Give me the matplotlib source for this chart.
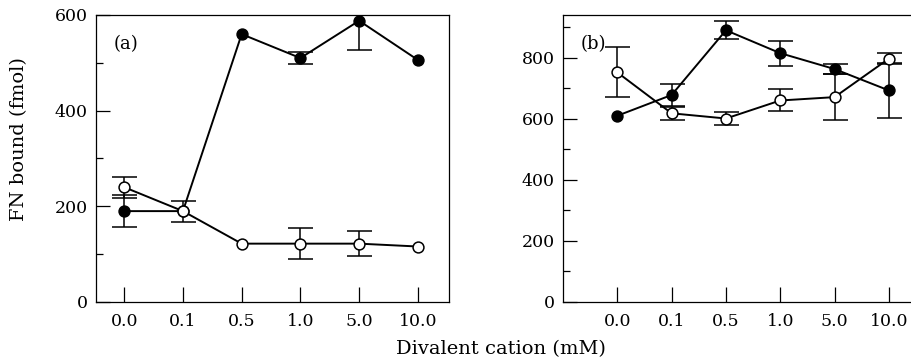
import numpy as np
import matplotlib
matplotlib.use("Agg")
import matplotlib.pyplot as plt
from matplotlib.ticker import MultipleLocator

plt.rcParams['font.family'] = ['DejaVu Serif']

conc_labels = ['0.0', '0.1', '0.5', '1.0', '5.0', '10.0']

# panel (a)
a_filled = [190, 190, 560, 510, 588, 506]
a_filled_err = [33, 0, 0, 12, 62, 0]
a_open = [240, 190, 122, 122, 122, 116]
a_open_err = [22, 22, 0, 32, 26, 0]

# panel (b)
b_filled = [610, 678, 890, 815, 763, 693]
b_filled_err = [0, 37, 29, 41, 16, 90]
b_open = [752, 618, 601, 660, 671, 797]
b_open_err = [82, 22, 21, 36, 76, 18]

fig = plt.figure(figsize=(9.12, 3.62), dpi=100)
ax1 = fig.add_axes([96/912, 60/362, 353/912, 287/362])
ax2 = fig.add_axes([563/912, 60/362, 353/912, 287/362])

x = np.arange(len(conc_labels))


def series(ax, y, err, face, z):
    y = np.asarray(y, float)
    err = np.asarray(err, float)
    has = err > 0
    # error bars only where an SD was given
    ax.errorbar(x[has], y[has], yerr=err[has], fmt='none', ecolor='black',
                elinewidth=1.1, capsize=9, capthick=1.1, zorder=z)
    ax.plot(x, y, '-', color='black', lw=1.4, zorder=z)
    ax.plot(x, y, 'o', ms=7.8, mfc=face, mec='black', mew=1.1, zorder=z + 0.5)


def style(ax):
    ax.set_xticks(x)
    ax.set_xticklabels(conc_labels)
    ax.tick_params(axis='x', direction='in', length=11, width=0.9, pad=8, labelsize=12.5)
    ax.tick_params(axis='y', which='major', direction='in', length=10, width=0.9,
                   pad=6, labelsize=12.5)
    ax.tick_params(axis='y', which='minor', direction='in', length=5, width=0.9)
    ax.yaxis.set_major_locator(MultipleLocator(200))
    ax.yaxis.set_minor_locator(MultipleLocator(100))
    for s in ax.spines.values():
        s.set_linewidth(0.9)


series(ax1, a_filled, a_filled_err, 'black', 3)
series(ax1, a_open, a_open_err, 'white', 4)
style(ax1)
ax1.set_xlim(-0.48, 5.53)
ax1.set_ylim(0, 600)
ax1.text(0.05, 0.90, '(a)', transform=ax1.transAxes, fontsize=13, va='center')

series(ax2, b_filled, b_filled_err, 'black', 3)
series(ax2, b_open, b_open_err, 'white', 4)
style(ax2)
ax2.set_xlim(-1.0, 5.5)
ax2.set_ylim(0, 940)
ax2.text(0.05, 0.90, '(b)', transform=ax2.transAxes, fontsize=13, va='center')

fig.text(19/912, 1 - 139/362, 'FN bound (fmol)', rotation=90, ha='center', va='center',
         fontsize=14)
fig.text(501/912, 1 - 349/362, 'Divalent cation (mM)', ha='center', va='center',
         fontsize=14)

fig.savefig('out.png', dpi=100)
